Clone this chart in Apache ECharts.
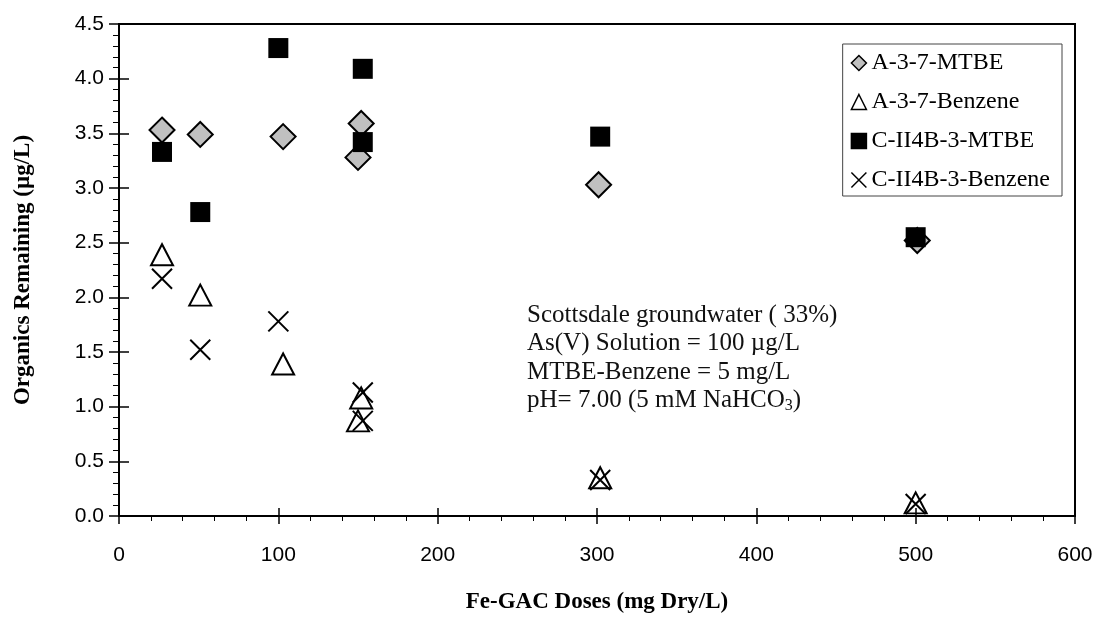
<!DOCTYPE html>
<html>
<head>
<meta charset="utf-8">
<script src="https://cdn.jsdelivr.net/npm/echarts@6/dist/echarts.min.js"></script>
<style>html,body{margin:0;padding:0;background:#fff}#c{width:1099px;height:625px}</style>
</head>
<body>
<div id="c"></div>
<script>
// Data (x: Fe-GAC dose mg Dry/L, y: organics remaining µg/L)
const seriesNames = ['A-3-7-MTBE', 'A-3-7-Benzene', 'C-II4B-3-MTBE', 'C-II4B-3-Benzene'];
const a37MTBE = [[27, 3.53], [51, 3.49], [103, 3.47], [152, 3.59], [150, 3.28], [301, 3.03], [501, 2.52]];
const a37Benzene = [[27, 2.39], [51, 2.02], [103, 1.39], [152, 1.08], [150, 0.87], [302, 0.35], [500, 0.12]];
const c3MTBE = [[27, 3.33], [51, 2.78], [100, 4.28], [153, 4.09], [153, 3.42], [302, 3.47], [500, 2.55]];
const c3Benzene = [[27, 2.17], [51, 1.52], [100, 1.78], [153, 1.13], [153, 0.87], [302, 0.33], [500, 0.11]];
const xTicks = [0, 100, 200, 300, 400, 500, 600];
const yTicks = [0, 0.5, 1, 1.5, 2, 2.5, 3, 3.5, 4, 4.5];
const noteLines = ['Scottsdale groundwater ( 33%)', 'As(V) Solution = 100 µg/L', 'MTBE-Benzene = 5 mg/L'];

const chart = echarts.init(document.getElementById('c'), null, {renderer: 'canvas'});
const serif = '"Liberation Serif", "DejaVu Serif", serif';
const sans = '"Liberation Sans", Arial, sans-serif';
const X_PATH = 'path://M0,0L20,20M20,0L0,20';

const xBase = {type: 'value', min: xTicks[0], max: xTicks[xTicks.length - 1], interval: 100};
const yBase = {type: 'value', min: yTicks[0], max: yTicks[yTicks.length - 1], interval: 0.5};

const option = {
  animation: false,
  backgroundColor: '#fff',
  grid: {left: 119, right: 24, top: 24, bottom: 109, show: true, borderColor: '#000', borderWidth: 2, backgroundColor: 'transparent'},
  xAxis: [
    Object.assign({}, xBase, {
      position: 'bottom',
      name: 'Fe-GAC Doses (mg Dry/L)', nameLocation: 'middle', nameGap: 75,
      nameTextStyle: {fontFamily: serif, fontWeight: 'bold', fontSize: 23, color: '#000'},
      axisLine: {show: true, onZero: false, lineStyle: {color: '#000', width: 2}},
      axisTick: {show: true, inside: false, length: 8, lineStyle: {color: '#000', width: 1.5}},
      minorTick: {show: true, splitNumber: 5, length: 5, lineStyle: {color: '#000', width: 1}},
      axisLabel: {margin: 29, fontFamily: sans, fontSize: 21, color: '#000'},
      splitLine: {show: false}
    }),
    Object.assign({}, xBase, {
      position: 'bottom',
      axisLine: {show: false, onZero: false},
      axisTick: {show: true, inside: true, length: 8, lineStyle: {color: '#000', width: 1.5}},
      axisLabel: {show: false}, splitLine: {show: false}
    })
  ],
  yAxis: [
    Object.assign({}, yBase, {
      position: 'left',
      name: 'Organics Remaining (µg/L)', nameLocation: 'middle', nameGap: 84,
      nameTextStyle: {fontFamily: serif, fontWeight: 'bold', fontSize: 23, color: '#000'},
      axisLine: {show: true, onZero: false, lineStyle: {color: '#000', width: 2}},
      axisTick: {show: true, inside: false, length: 10, lineStyle: {color: '#000', width: 1.5}},
      minorTick: {show: true, splitNumber: 5, length: 6, lineStyle: {color: '#000', width: 1}},
      axisLabel: {margin: 15, fontFamily: sans, fontSize: 21, color: '#000', formatter: v => v.toFixed(1)},
      splitLine: {show: false}
    }),
    Object.assign({}, yBase, {
      position: 'left',
      axisLine: {show: false, onZero: false},
      axisTick: {show: true, inside: true, length: 10, lineStyle: {color: '#000', width: 1.5}},
      axisLabel: {show: false}, splitLine: {show: false}
    })
  ],
  legend: {
    orient: 'vertical', right: 37, top: 44,
    padding: [7, 12, 4, 8], itemGap: 15,
    itemWidth: 15, itemHeight: 15,
    backgroundColor: '#fff', borderColor: '#444', borderWidth: 1,
    textStyle: {fontFamily: serif, fontSize: 24, color: '#000'},
    itemStyle: {borderWidth: 1.5, opacity: 1},
    data: seriesNames
  },
  graphic: [
    {
      type: 'text', left: 527, top: 301, z: 10,
      style: {
        text: noteLines.join('\n') + '\n{n|pH= 7.00 (5 mM NaHCO}{s|3}{n|)}',
        fontFamily: serif, fontSize: 25, lineHeight: 28.5, fill: '#111',
        rich: {
          n: {fontFamily: serif, fontSize: 25, lineHeight: 28.5, fill: '#111'},
          s: {fontFamily: serif, fontSize: 16, lineHeight: 28.5, fill: '#111', padding: [10, 0, 0, 0]}
        }
      }
    }
  ],
  series: [
    {
      name: seriesNames[0], type: 'scatter', data: a37MTBE, symbol: 'diamond', symbolSize: 25,
      itemStyle: {color: '#c0c0c0', borderColor: '#000', borderWidth: 2, opacity: 1}, z: 2
    },
    {
      name: seriesNames[1], type: 'scatter', data: a37Benzene, symbol: 'triangle', symbolSize: [22, 21],
      itemStyle: {color: 'rgba(0,0,0,0)', borderColor: '#000', borderWidth: 2, opacity: 1}, z: 3
    },
    {
      name: seriesNames[2], type: 'scatter', data: c3MTBE, symbol: 'rect', symbolSize: 20,
      itemStyle: {color: '#000', borderColor: '#000', borderWidth: 0, opacity: 1}, z: 4
    },
    {
      name: seriesNames[3], type: 'scatter', data: c3Benzene, symbol: X_PATH, symbolSize: 20,
      itemStyle: {color: 'rgba(0,0,0,0)', borderColor: '#000', borderWidth: 2, opacity: 1}, z: 5
    }
  ]
};
chart.setOption(option);
</script>
</body>
</html>
